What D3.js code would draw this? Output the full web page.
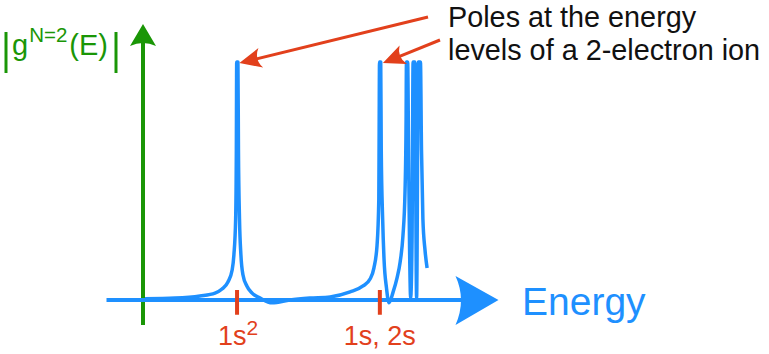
<!DOCTYPE html>
<html>
<head>
<meta charset="utf-8">
<script src="https://d3js.org/d3.v7.min.js"></script>
<style>
  body { margin: 0; background: #fff; }
  text { font-family: "Liberation Sans", Arial, Helvetica, sans-serif; }
</style>
</head>
<body>
<script>
// |g(E)|, energy in arbitrary units, value clipped at 10
var energy = [0, 0.86, 1.57, 2.0, 2.2, 2.37, 2.49, 2.54, 2.59, 2.61, 2.62, 2.655, 2.67, 2.70, 2.74, 2.80, 2.91, 3.06, 3.29, 3.63,
              4.14, 4.71, 5.29, 5.86, 6.23, 6.43, 6.54, 6.63, 6.68, 6.69, 6.70, 6.735, 6.75, 6.79, 6.83, 6.90, 6.97,
              7.09, 7.20, 7.29, 7.37, 7.43, 7.46, 7.47, 7.505, 7.53, 7.56, 7.59, 7.63, 7.66, 7.71, 7.76, 7.81, 7.87,
              7.90, 7.94, 8.00, 8.06];
var gAbs = [0.05, 0.08, 0.17, 0.29, 0.46, 0.76, 1.26, 1.9, 3.4, 6.3, 10, 10, 6.3, 3.4, 1.9, 1.05, 0.59, 0.29, 0.08, -0.12,
            0, 0.08, 0.13, 0.34, 0.59, 0.88, 1.34, 2.3, 4.2, 7.1, 10, 10, 6.3, 3.4, 1.7, 0.5, -0.12,
            0.34, 0.92, 1.6, 2.7, 4.6, 7.6, 10, 10, 6.3, 2.1, 0.08, 2.5, 10, 10, 0.08, 10, 10,
            6.3, 3.4, 2.1, 1.34];

// labelled levels on the energy axis
var levelEnergy = [2.63, 6.71];
var levelLabels = [["1s", "2"], ["1s, 2s", ""]];
// poles the annotation arrows point at
var arrowTargets = [2.64, 6.74];

var w = 769, h = 354;
var blue = "#1e90ff", green = "#1a9606", red = "#e2401c";

var x = d3.scaleLinear().domain([0, 10]).range([145, 495]);
var y = d3.scaleLinear().domain([0, 10]).range([300, 62]);

var svg = d3.select("body").append("svg").attr("width", w).attr("height", h);

// vertical axis (green)
svg.append("line")
    .attr("x1", x(0) - 2).attr("x2", x(0) - 2)
    .attr("y1", y(-1.05)).attr("y2", y(10.8))
    .attr("stroke", green).attr("stroke-width", 4);
var gx = x(0) - 2, gy = y(11.6);
svg.append("path")
    .attr("d", "M" + gx + "," + gy + " L" + (gx + 13) + "," + (gy + 22) +
               " Q" + gx + "," + (gy + 16) + " " + (gx - 13) + "," + (gy + 22) + " Z")
    .attr("fill", green);

// horizontal axis (blue)
svg.append("line")
    .attr("x1", x(-1.1)).attr("x2", x(9.2))
    .attr("y1", y(0)).attr("y2", y(0))
    .attr("stroke", blue).attr("stroke-width", 4);
var bx = x(10.1), by = y(0);
svg.append("path")
    .attr("d", "M" + bx + "," + by + " L" + (bx - 43) + "," + (by - 24) +
               " Q" + (bx - 32) + "," + by + " " + (bx - 43) + "," + (by + 25) + " Z")
    .attr("fill", blue);

// red level ticks and labels
svg.selectAll(".lvl").data(levelEnergy).enter().append("line")
    .attr("class", "lvl")
    .attr("x1", function(d){ return x(d); }).attr("x2", function(d){ return x(d); })
    .attr("y1", y(0.42)).attr("y2", y(-0.62))
    .attr("stroke", red).attr("stroke-width", 4);

levelEnergy.forEach(function(e, i){
    var t = svg.append("text")
        .attr("x", x(e) + (levelLabels[i][1] ? 1 : 0)).attr("y", 345)
        .attr("text-anchor", "middle")
        .attr("fill", red).attr("font-size", 27);
    t.append("tspan").text(levelLabels[i][0]);
    if (levelLabels[i][1]) {
        t.append("tspan").attr("dy", -10).attr("font-size", 21).text(levelLabels[i][1]);
    }
});

// |g(E)| curve
var pts = energy.map(function(e, i){ return [e, gAbs[i]]; });
var line = d3.line()
    .x(function(d){ return x(d[0]); })
    .y(function(d){ return y(d[1]); })
    .curve(d3.curveMonotoneX);
svg.append("path")
    .attr("d", line(pts))
    .attr("fill", "none")
    .attr("stroke", blue).attr("stroke-width", 3.5)
    .attr("stroke-linejoin", "round");

// axis labels
svg.append("text").attr("x", 522).attr("y", 315)
    .attr("fill", blue).attr("font-size", 39).text("Energy");

var yl = svg.append("g");
yl.append("line").attr("x1", 6).attr("x2", 6).attr("y1", 32).attr("y2", 73)
    .attr("stroke", green).attr("stroke-width", 3);
yl.append("line").attr("x1", 116).attr("x2", 116).attr("y1", 32).attr("y2", 73)
    .attr("stroke", green).attr("stroke-width", 3);
var ylt = yl.append("text").attr("x", 12).attr("y", 55)
    .attr("fill", green).attr("font-size", 29);
ylt.append("tspan").text("g");
ylt.append("tspan").attr("dy", -13).attr("dx", 1).attr("font-size", 20.5).text("N=2");
ylt.append("tspan").attr("dy", 13).attr("dx", 2).text("(E)");

// annotation
var note = svg.append("text").attr("x", 448).attr("y", 27)
    .attr("fill", "#111").attr("font-size", 28.8);
note.append("tspan").attr("x", 448).text("Poles at the energy");
note.append("tspan").attr("x", 448).attr("dy", 33).text("levels of a 2-electron ion");

var starts = [[428, 17], [440, 40]];
arrowTargets.forEach(function(e, i){
    var tx = x(e) + 2, ty = y(10) + 1;
    var sx = starts[i][0], sy = starts[i][1];
    var ang = Math.atan2(sy - ty, sx - tx);
    var ux = Math.cos(ang), uy = Math.sin(ang);
    var len = 22, hw = 10;
    var bx1 = tx + ux * len, by1 = ty + uy * len;
    svg.append("line")
        .attr("x1", sx).attr("y1", sy)
        .attr("x2", tx + ux * 14).attr("y2", ty + uy * 14)
        .attr("stroke", red).attr("stroke-width", 3);
    svg.append("path")
        .attr("d", "M" + tx + "," + ty +
                   " L" + (bx1 - uy * hw) + "," + (by1 + ux * hw) +
                   " Q" + (tx + ux * 15) + "," + (ty + uy * 15) + " " +
                   (bx1 + uy * hw) + "," + (by1 - ux * hw) + " Z")
        .attr("fill", red);
});
</script>
</body>
</html>
